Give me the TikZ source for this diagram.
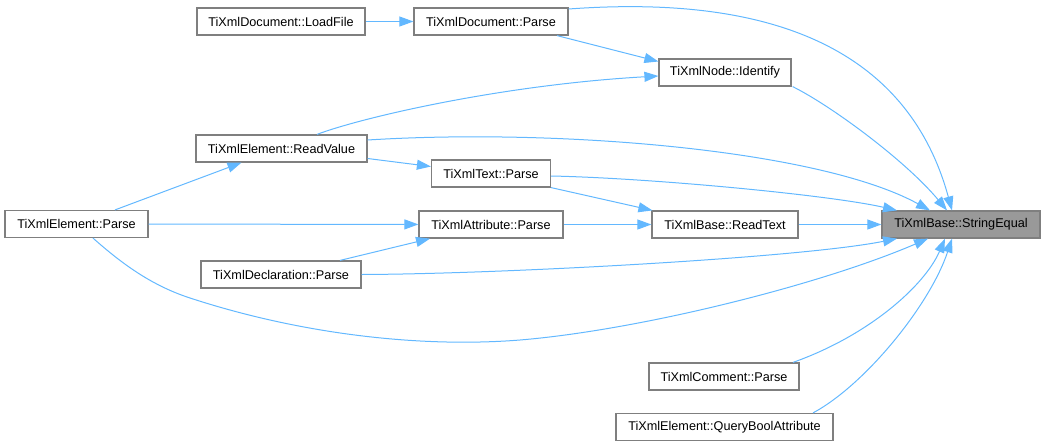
\documentclass[tikz,border=0pt]{standalone}
\usepackage{fontspec}
\setmainfont{Liberation Sans}
\definecolor{DOXedge}{HTML}{63B8FF}
\definecolor{DOXframe}{HTML}{7F7F7F}
\definecolor{DOXfocus}{HTML}{999999}
\usetikzlibrary{arrows.meta, calc, positioning}

\begin{document}
\begin{tikzpicture}[
      x=0.75pt, y=-0.75pt,
      box/.style={draw=DOXframe, line width=0.9pt, fill=white, minimum height=20.25pt,
                  inner sep=0pt, align=center, font=\fontsize{9.5}{11}\selectfont},
      focus/.style={box, fill=DOXfocus},
      arr/.style={-{Triangle[length=10.5pt, width=7.5pt]}, line width=0.75pt, DOXedge}
   ]
      \useasboundingbox (0,0) rectangle (1045,446);

      \node[box, minimum width=126pt] (LoadFile) at (281,21.5) {TiXmlDocument::LoadFile};
      \node[box, minimum width=115.5pt] (DocParse) at (491,21.5) {TiXmlDocument::Parse};
      \node[box, minimum width=99pt] (Identify) at (725,72.5) {TiXmlNode::Identify};
      \node[box, minimum width=128.25pt] (ReadValue) at (281.5,148.5) {TiXmlElement::ReadValue};
      \node[box, minimum width=89.25pt] (TextParse) at (491,173.5) {TiXmlText::Parse};
      \node[box, minimum width=107.25pt] (ElemParse) at (76.5,224) {TiXmlElement::Parse};
      \node[box, minimum width=108pt] (AttrParse) at (491,224.5) {TiXmlAttribute::Parse};
      \node[box, minimum width=109.5pt] (ReadText) at (725,224.5) {TiXmlBase::ReadText};
      \node[focus, minimum width=118.5pt] (StrEq) at (961,224.5) {TiXmlBase::StringEqual};
      \node[box, minimum width=120pt] (DeclParse) at (281,274.5) {TiXmlDeclaration::Parse};
      \node[box, minimum width=112.5pt] (CommParse) at (724,376.5) {TiXmlComment::Parse};
      \node[box, minimum width=162.75pt] (QueryBool) at (724.5,427) {TiXmlElement::QueryBoolAttribute};

      \draw[arr] (LoadFile) -- (DocParse);
      \draw[arr] ($(DocParse.south)+(66,0)$) -- ($(Identify.west)+(0,-11)$);
      \draw[arr] ($(DocParse.east)+(0,-12.5)$) .. controls (720,-2) and (900,20) .. ($(StrEq.north)+(-9,0)$);
      \draw[arr] ($(Identify.south east)+(1,0)$) .. controls (830,105) and (905,160) .. ($(StrEq.north)+(-14,0)$);
      \draw[arr] ($(ReadValue.north)+(35.5,0)$) .. controls (360,118) and (500,85) .. ($(Identify.west)+(0,3.5)$);
      \draw[arr] ($(ReadValue.east)+(0,-8.5)$) .. controls (560,128) and (820,150) .. ($(StrEq.north)+(-31,0)$);
      \draw[arr] ($(ReadValue.east)+(0,10)$) -- ($(TextParse.west)+(0,-7)$);
      \draw[arr] ($(TextParse.east)+(0,2.5)$) .. controls (650,178) and (830,195) .. ($(StrEq.north)+(-64,0)$);
      \draw[arr] (TextParse.south east) -- ($(ReadText.north west)+(1,0)$);
      \draw[arr] ($(ElemParse.north)+(38.5,0)$) -- ($(ReadValue.south)+(-40,0)$);
      \draw[arr] (ElemParse) -- (AttrParse);
      \draw[arr] ($(ElemParse.south)+(16.5,0)$) .. controls (120,262) and (150,285) .. (190,298)
                 .. controls (300,334) and (420,348) .. (520,340)
                 .. controls (640,330) and (820,285) .. ($(StrEq.south)+(-33,0)$);
      \draw[arr] (AttrParse) -- (ReadText);
      \draw[arr] ($(DeclParse.north)+(59,0)$) -- ($(AttrParse.south)+(-61,0)$);
      \draw[arr] (DeclParse.east) .. controls (500,274) and (800,258) .. ($(StrEq.south)+(-64,0)$);
      \draw[arr] (ReadText) -- (StrEq);
      \draw[arr] ($(CommParse.north)+(69,0)$) .. controls (870,335) and (925,285) .. ($(StrEq.south)+(-16,0)$);
      \draw[arr] ($(QueryBool.north)+(88.5,0)$) .. controls (865,385) and (930,305) .. ($(StrEq.south)+(-9,0)$);
   \end{tikzpicture}
\end{document}
